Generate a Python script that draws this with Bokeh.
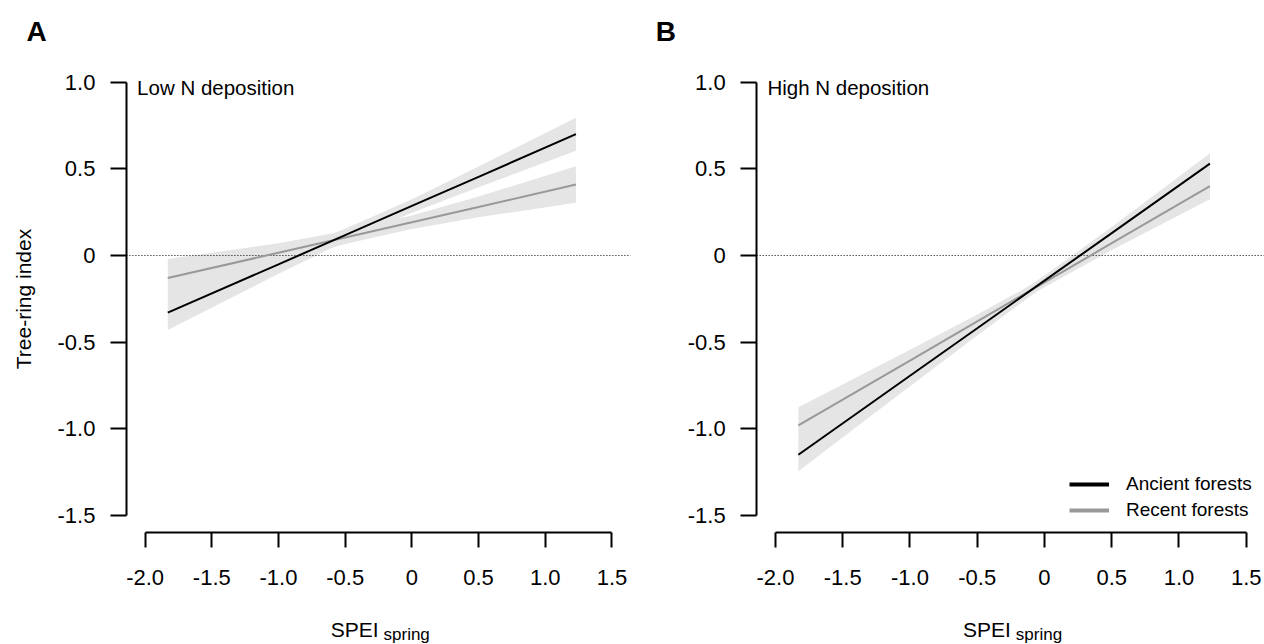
from bokeh.plotting import figure
from bokeh.models import (Range1d, LinearAxis, FixedTicker, Label,
                          Legend, LegendItem)
from bokeh.layouts import row
from bokeh.embed import file_html
from bokeh.resources import INLINE

# ---------------- data ----------------
spei = [-1.83, -1.0, -0.5, 0.0, 0.5, 1.23]

# Panel A: low N deposition
lowN_ancient_fit = [-0.33, -0.051, 0.118, 0.286, 0.454, 0.70]
lowN_ancient_lo = [-0.43, -0.106, 0.081, 0.247, 0.394, 0.605]
lowN_ancient_hi = [-0.23, 0.004, 0.155, 0.325, 0.514, 0.795]
lowN_recent_fit = [-0.13, 0.016, 0.104, 0.192, 0.280, 0.41]
lowN_recent_lo = [-0.24, -0.039, 0.067, 0.153, 0.220, 0.305]
lowN_recent_hi = [-0.02, 0.071, 0.141, 0.231, 0.340, 0.515]

# Panel B: high N deposition
highN_ancient_fit = [-1.15, -0.694, -0.42, -0.145, 0.129, 0.53]
highN_ancient_lo = [-1.245, -0.754, -0.461, -0.175, 0.094, 0.47]
highN_ancient_hi = [-1.055, -0.634, -0.379, -0.115, 0.164, 0.59]
highN_recent_fit = [-0.98, -0.606, -0.38, -0.155, 0.071, 0.40]
highN_recent_lo = [-1.085, -0.668, -0.419, -0.183, 0.031, 0.325]
highN_recent_hi = [-0.875, -0.544, -0.341, -0.127, 0.111, 0.475]

x_ticks = [-2.0, -1.5, -1.0, -0.5, 0.0, 0.5, 1.0, 1.5]
x_tick_labels = ["-2.0", "-1.5", "-1.0", "-0.5", "0", "0.5", "1.0", "1.5"]
y_ticks = [-1.5, -1.0, -0.5, 0.0, 0.5, 1.0]
y_tick_labels = ["-1.5", "-1.0", "-0.5", "0", "0.5", "1.0"]

series_names = ["Ancient forests", "Recent forests"]
series_colors = ["#000000", "#999999"]
band_color = "#E5E5E5"

# plotting region of each panel (R style: limits padded by 4 %)
region_x = (-2.14, 1.64)
region_y = (-1.6, 1.1)

FONT = "Liberation Sans"
H = 644


def make_panel(width, x_range, fits, los, his, letter, title, ylabel, legend):
    p = figure(width=width, height=H,
               x_range=Range1d(*x_range), y_range=Range1d(-2.2447, 1.4714),
               output_backend="svg", toolbar_location=None,
               x_axis_type=None, y_axis_type=None,
               min_border=0, min_border_left=0, min_border_right=0,
               min_border_top=0, min_border_bottom=0)
    p.outline_line_color = None
    p.background_fill_color = "white"
    p.border_fill_color = "white"

    xaxis = LinearAxis(fixed_location=region_y[0], bounds=(-2.0, 1.5),
                       ticker=FixedTicker(ticks=x_ticks, minor_ticks=[]),
                       major_label_overrides=dict(zip(x_ticks, x_tick_labels)),
                       axis_line_width=2, major_tick_line_width=2,
                       major_tick_out=15, major_tick_in=0,
                       minor_tick_out=0, minor_tick_in=0,
                       major_label_standoff=22,
                       major_label_text_font=FONT,
                       major_label_text_font_size="22px",
                       major_label_text_color="black")
    p.add_layout(xaxis, "below")

    yaxis = LinearAxis(fixed_location=region_x[0], bounds=(-1.5, 1.0),
                       ticker=FixedTicker(ticks=y_ticks, minor_ticks=[]),
                       major_label_overrides=dict(zip(y_ticks, y_tick_labels)),
                       axis_line_width=2, major_tick_line_width=2,
                       major_tick_out=16, major_tick_in=0,
                       minor_tick_out=0, minor_tick_in=0,
                       major_label_standoff=15,
                       major_label_text_font=FONT,
                       major_label_text_font_size="22px",
                       major_label_text_color="black")
    if ylabel:
        yaxis.axis_label = ylabel
        yaxis.axis_label_text_font = FONT
        yaxis.axis_label_text_font_size = "21px"
        yaxis.axis_label_text_font_style = "normal"
        yaxis.axis_label_text_color = "black"
        yaxis.axis_label_standoff = 20
    p.add_layout(yaxis, "left")

    # confidence bands
    for lo, hi in zip(los, his):
        p.varea(x=spei, y1=lo, y2=hi, fill_color=band_color)

    # dotted zero line across the plotting region
    p.segment(x0=[region_x[0]], y0=[0], x1=[region_x[1]], y1=[0],
              line_color="black", line_width=1, line_dash="1 2")

    # fitted lines (recent first, ancient on top)
    for fit, col in list(zip(fits, series_colors))[::-1]:
        p.line(x=spei, y=fit, line_color=col, line_width=2)

    p.add_layout(Label(x=-2.06, y=0.9665, text=title, text_font=FONT,
                       text_font_size="20.5px", text_baseline="middle",
                       text_align="left", text_color="black"))
    p.add_layout(Label(x=-2.89, y=1.2925, text=letter, text_font=FONT,
                       text_font_size="28px", text_font_style="bold",
                       text_baseline="middle", text_align="left",
                       text_color="black"))
    # x-axis title with subscript, centred on the plotting region
    xc = (region_x[0] + region_x[1]) / 2
    p.add_layout(Label(x=xc, y=-2.161, text="SPEI", text_font=FONT,
                       text_font_size="21px", text_baseline="middle",
                       text_align="right", text_color="black"))
    p.add_layout(Label(x=xc, y=-2.187, x_offset=5, text="spring",
                       text_font=FONT, text_font_size="17px",
                       text_baseline="middle", text_align="left",
                       text_color="black"))

    if legend:
        items = []
        for name, col, fit in zip(series_names, series_colors, fits):
            r = p.line(x=spei, y=fit, line_color=col, line_width=4,
                       visible=False)
            items.append(LegendItem(label=name, renderers=[r]))
        leg = Legend(items=items, location=(437, 123), orientation="vertical",
                     glyph_width=40, glyph_height=20, label_height=20,
                     label_standoff=17, spacing=4, padding=0, margin=0,
                     border_line_color=None, background_fill_alpha=0,
                     label_text_font=FONT, label_text_font_size="19px",
                     label_text_color="black", click_policy="none")
        p.add_layout(leg, "center")
    return p


pA = make_panel(632, (-3.084, 1.654),
                [lowN_ancient_fit, lowN_recent_fit],
                [lowN_ancient_lo, lowN_recent_lo],
                [lowN_ancient_hi, lowN_recent_hi],
                "A", "Low N deposition", "Tree-ring index", False)
pB = make_panel(632, (-3.063, 1.6357),
                [highN_ancient_fit, highN_recent_fit],
                [highN_ancient_lo, highN_recent_lo],
                [highN_ancient_hi, highN_recent_hi],
                "B", "High N deposition", None, True)

layout = row(pA, pB, spacing=0)
open("out.html", "w").write(file_html(layout, INLINE))
